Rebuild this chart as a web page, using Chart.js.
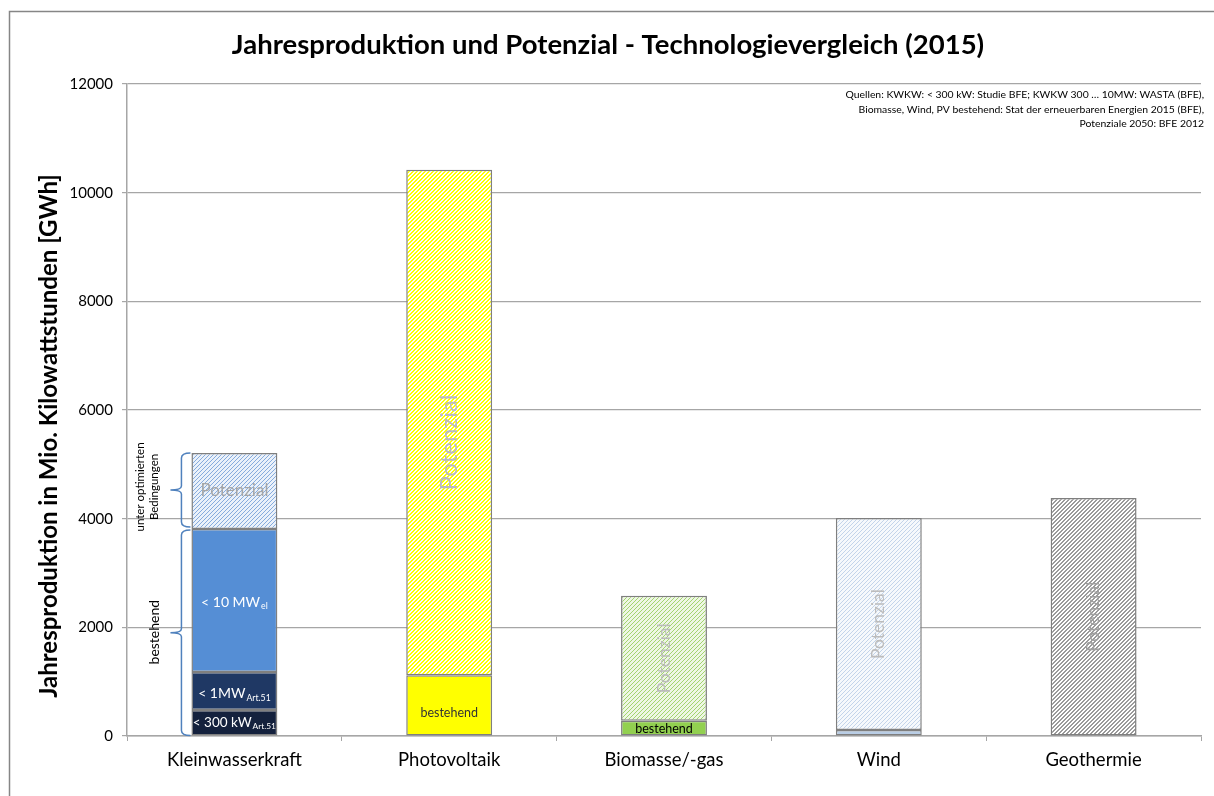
<!DOCTYPE html>
<html>
<head>
<meta charset="utf-8">
<script src="https://cdn.jsdelivr.net/npm/chart.js@4.4.0/dist/chart.umd.min.js"></script>
<style>
  html, body { margin: 0; padding: 0; background: #fff; }
  #wrap { width: 1214px; height: 796px; position: relative; }
</style>
</head>
<body>
<div id="wrap"><canvas id="chart"></canvas></div>
<script>
const categories = ['Kleinwasserkraft', 'Photovoltaik', 'Biomasse/-gas', 'Wind', 'Geothermie'];
// GWh per year
const kwkw300kW = [480, null, null, null, null];
const kwkw1MW = [700, null, null, null, null];
const kwkw10MW = [2630, null, null, null, null];
const bestehend = [null, 1120, 280, 110, null];
const potenzial = [1400, 9300, 2300, 3900, 4380];
const yTicks = [0, 2000, 4000, 6000, 8000, 10000, 12000];
const sources = [
    'Quellen: KWKW: < 300 kW: Studie BFE; KWKW 300 \u2026 10MW: WASTA (BFE),',
    'Biomasse, Wind, PV bestehend: Stat der erneuerbaren Energien 2015 (BFE),',
    'Potenziale 2050: BFE 2012'
];

const FONT = 'Lato, "Open Sans", sans-serif';
const GRID = '#a6a6a6';

// crisp "/" hatch, 4px period
function hatch(bg, fg, thick) {
    const n = 4;
    const c = document.createElement('canvas');
    c.width = n; c.height = n;
    const g = c.getContext('2d');
    g.fillStyle = bg;
    g.fillRect(0, 0, n, n);
    g.fillStyle = fg;
    for (let y = 0; y < n; y++) {
        for (let t = 0; t < thick; t++) {
            g.fillRect((n - 1 - y + t) % n, y, 1, 1);
        }
    }
    return g.createPattern(c, 'repeat');
}

const potColors = [
    hatch('#eaf1fa', '#86abdd', 1),
    hatch('#ffffff', '#ffff00', 2),
    hatch('#eef7e4', '#a3d46f', 1),
    hatch('#f6f9fc', '#c3d4ea', 1),
    hatch('#ffffff', '#9a9a9a', 2)
];

function seg(label, data, color) {
    return {
        label: label,
        data: data,
        backgroundColor: color,
        borderColor: '#7f7f7f',
        borderWidth: 1.5,
        borderSkipped: false,
        categoryPercentage: 1,
        barPercentage: 0.4
    };
}

// frame, titles, sources
const decorPlugin = {
    id: 'decor',
    beforeDraw(chart) {
        const ctx = chart.ctx;
        ctx.save();
        ctx.fillStyle = '#fff';
        ctx.fillRect(0, 0, chart.width, chart.height);
        ctx.strokeStyle = '#868686';
        ctx.lineWidth = 1.5;
        ctx.strokeRect(9.5, 11.5, 1400, 1000);
        ctx.restore();
    },
    afterDraw(chart) {
        const ctx = chart.ctx;
        const area = chart.chartArea;
        ctx.save();
        ctx.fillStyle = '#000';
        ctx.font = 'bold 27.5px ' + FONT;
        ctx.textAlign = 'center';
        ctx.textBaseline = 'middle';
        ctx.fillText('Jahresproduktion und Potenzial - Technologievergleich (2015)', 608, 45);

        ctx.font = 'bold 24px ' + FONT;
        vText(ctx, 'Jahresproduktion in Mio. Kilowattstunden [GWh]', 49, 436);

        ctx.font = '10.4px ' + FONT;
        ctx.textAlign = 'right';
        sources.forEach((s, i) => {
            ctx.fillText(s, area.right + 3, 95 + i * 14.5);
        });
        ctx.restore();
    }
};

function textWithSub(ctx, main, sub, cx, cy, size) {
    ctx.font = size + 'px ' + FONT;
    const w1 = ctx.measureText(main).width;
    ctx.font = (size * 0.62) + 'px ' + FONT;
    const w2 = ctx.measureText(sub).width;
    const x0 = cx - (w1 + w2 + 1) / 2;
    ctx.textAlign = 'left';
    ctx.textBaseline = 'middle';
    ctx.font = size + 'px ' + FONT;
    ctx.fillText(main, x0, cy);
    ctx.font = (size * 0.62) + 'px ' + FONT;
    ctx.fillText(sub, x0 + w1 + 1, cy + size * 0.3);
}

function vText(ctx, text, x, y) {
    ctx.save();
    ctx.translate(x, y);
    ctx.rotate(-Math.PI / 2);
    ctx.fillText(text, 0, 0);
    ctx.restore();
}

function brace(ctx, x, yTop, yBot) {
    const mid = (yTop + yBot) / 2;
    ctx.beginPath();
    ctx.moveTo(x + 9, yTop);
    ctx.quadraticCurveTo(x, yTop, x, yTop + 5);
    ctx.lineTo(x, mid - 4);
    ctx.quadraticCurveTo(x, mid, x - 11, mid);
    ctx.quadraticCurveTo(x, mid, x, mid + 4);
    ctx.lineTo(x, yBot - 5);
    ctx.quadraticCurveTo(x, yBot, x + 9, yBot);
    ctx.stroke();
}

const labelPlugin = {
    id: 'barLabels',
    afterDatasetsDraw(chart) {
        const ctx = chart.ctx;
        const bar = (ds, i) => chart.getDatasetMeta(ds).data[i];
        ctx.save();

        // Kleinwasserkraft segments
        ctx.fillStyle = '#ffffff';
        let b = bar(0, 0);
        textWithSub(ctx, '< 300 kW', 'Art.51', b.x, (b.y + b.base) / 2, 13.5);
        b = bar(1, 0);
        textWithSub(ctx, '< 1MW', 'Art.51', b.x, (b.y + b.base) / 2 + 3, 14);
        b = bar(2, 0);
        textWithSub(ctx, '< 10 MW', 'el', b.x, (b.y + b.base) / 2 + 2, 14);

        // Potenzial labels
        ctx.textAlign = 'center';
        ctx.textBaseline = 'middle';
        ctx.fillStyle = '#a6a6a6';
        b = bar(4, 0);
        ctx.font = '17px ' + FONT;
        ctx.fillText('Potenzial', b.x, (b.y + b.base) / 2);
        for (let i = 1; i < categories.length; i++) {
            b = bar(4, i);
            ctx.font = (i === 1 ? 24 : 17.5) + 'px ' + FONT;
            ctx.fillStyle = i === 4 ? '#a0a0a0' : '#bcbcbc';
            vText(ctx, 'Potenzial', b.x, (b.y + b.base) / 2 + (i === 1 ? 20 : 0));
        }

        // bestehend labels
        ctx.font = '12.5px ' + FONT;
        ctx.fillStyle = '#333333';
        b = bar(3, 1);
        ctx.fillText('bestehend', b.x, (b.y + b.base) / 2 + 8);
        ctx.fillStyle = '#000000';
        b = bar(3, 2);
        ctx.fillText('bestehend', b.x, (b.y + b.base) / 2 + 1);

        // braces left of Kleinwasserkraft
        const top10 = bar(2, 0).y;
        const base = bar(0, 0).base;
        const pot = bar(4, 0);
        const x = pot.x - pot.width / 2 - 10;
        ctx.strokeStyle = '#4f81bd';
        ctx.lineWidth = 1.5;
        brace(ctx, x, top10 + 1, base);
        brace(ctx, x, pot.y, top10 - 2);

        ctx.fillStyle = '#000';
        ctx.font = '14px ' + FONT;
        vText(ctx, 'bestehend', x - 27, (top10 + base) / 2);
        ctx.font = '11.5px ' + FONT;
        vText(ctx, 'unter optimierten', x - 41, (pot.y + top10) / 2 - 4);
        vText(ctx, 'Bedingungen', x - 27, (pot.y + top10) / 2 - 4);
        ctx.restore();
    }
};

const ctx = document.getElementById('chart').getContext('2d');
const chart = new Chart(ctx, {
    type: 'bar',
    data: {
        labels: categories,
        datasets: [
            seg('< 300 kW Art.51', kwkw300kW, '#14213d'),
            seg('< 1MW Art.51', kwkw1MW, '#1f3864'),
            seg('< 10 MW el', kwkw10MW, '#558ed5'),
            seg('bestehend', bestehend, ['#ffffff', '#ffff00', '#92d050', '#b9cde5', '#ffffff']),
            seg('Potenzial', potenzial, potColors)
        ]
    },
    options: {
        responsive: true,
        maintainAspectRatio: false,
        animation: false,
        layout: { padding: { left: 0, top: 84, right: 13, bottom: 0 } },
        plugins: {
            legend: { display: false },
            tooltip: { enabled: false }
        },
        scales: {
            x: {
                stacked: true,
                afterFit: s => { s.height = 60; },
                grid: { display: true, drawOnChartArea: false, color: GRID, tickLength: 5, offset: true },
                border: { color: GRID, width: 1.5 },
                ticks: { color: '#000', padding: 8, font: { family: FONT, size: 18.5 } }
            },
            y: {
                stacked: true,
                min: 0,
                max: 12000,
                afterFit: s => { s.width = 127; },
                afterBuildTicks: s => { s.ticks = yTicks.map(v => ({ value: v })); },
                grid: { color: GRID, tickLength: 5, lineWidth: 1.2 },
                border: { color: GRID, width: 1.5 },
                ticks: {
                    color: '#000',
                    padding: 9,
                    font: { family: FONT, size: 15 },
                    callback: v => String(v)
                }
            }
        }
    },
    plugins: [decorPlugin, labelPlugin]
});
</script>
</body>
</html>
